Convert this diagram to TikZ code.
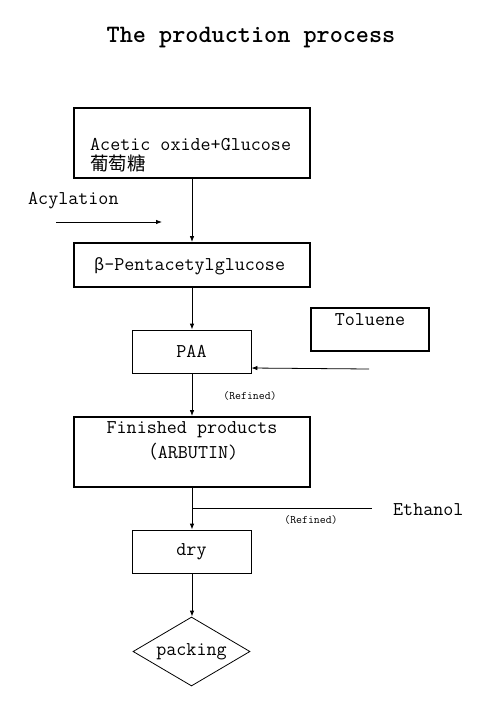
\documentclass[tikz,border=0pt]{standalone}
\usepackage{fontspec}
\newfontfamily\cjk{Noto Sans CJK SC}
\usetikzlibrary{arrows.meta,shapes.geometric}
\begin{document}
\begin{tikzpicture}[x=1pt,y=-1pt,
  thickbox/.style={draw,line width=1.8pt,inner sep=0pt},
  thinbox/.style={draw,line width=0.8pt,inner sep=0pt},
  lbl/.style={inner sep=0pt,font=\ttfamily\fontsize{19.5}{21}\selectfont},
  small/.style={inner sep=0pt,font=\ttfamily\fontsize{11.5}{13}\selectfont},
  arr/.style={line width=0.8pt,-{Latex[length=6pt,width=4.5pt]}},
  ln/.style={line width=0.8pt}]
\useasboundingbox (0,0) rectangle (500,702);
% title
\node[inner sep=0pt,font=\ttfamily\fontsize{25}{27}\selectfont] (title) at (251,38) {\textbf{The production process}};
% box 1
\node[thickbox,minimum width=236pt,minimum height=70pt] (b1) at (192,143) {};
\node[lbl,anchor=west] (t1a) at (90,145) {Acetic oxide+Glucose};
\node[inner sep=0pt,anchor=west,font=\cjk\fontsize{18.5}{20}\selectfont] (t1b) at (90,163) {葡萄糖};
% acylation
\node[lbl,anchor=west] (acyl) at (28,201) {Acylation};
\coordinate (ac1) at (56,222);
\coordinate (ac2) at (162,222);
\draw[arr] (ac1) -- (ac2);
% box 2
\node[thickbox,minimum width=236pt,minimum height=44pt] (b2) at (192,265) {};
\node[lbl,anchor=west] (t2) at (94,266) {{\cjk\fontsize{16}{18}\selectfont β}-Pentacetylglucose};
% PAA
\node[thinbox,minimum width=119pt,minimum height=43pt,lbl] (paa) at (191.5,351.5) {PAA};
% Toluene
\node[thickbox,minimum width=118pt,minimum height=43pt] (tol) at (370,329.5) {};
\node[lbl] (tolt) at (370,320) {Toluene};
\coordinate (tolend) at (369,369);
\draw[arr] (tolend) -- (paa.east |- 0,368) coordinate (paaR);
\node[small] (ref1) at (250,396) {(Refined)};
% Finished
\node[thickbox,minimum width=236pt,minimum height=70pt] (fin) at (192,452) {};
\node[lbl] (fina) at (192,430) {Finished products};
\node[lbl] (finb) at (189,452) {{\cjk\fontsize{18}{20}\selectfont （}ARBUTIN)};
% dry
\node[thinbox,minimum width=119pt,minimum height=43pt,lbl] (dry) at (191.5,551.5) {dry};
% packing
\node[draw,line width=0.8pt,diamond,minimum width=117pt,minimum height=69pt,inner sep=0pt,lbl,aspect=1.7] (pack) at (191.5,651.5) {packing};
% connectors
\draw[arr] (b1.south -| 192,0) -- (b2.north -| 192,0);
\draw[arr] (b2.south -| 192,0) -- (paa.north -| 192,0);
\draw[arr] (paa.south -| 192,0) -- (fin.north -| 192,0);
\draw[arr] (fin.south -| 192,0) -- (dry.north -| 192,0);
\draw[arr] (dry.south -| 192,0) -- (pack.north -| 192,0);
% ethanol
\coordinate (ej) at (192,508);
\coordinate (ee) at (372,508);
\draw[ln] (ej) -- (ee);
\node[lbl,anchor=west] (eth) at (393,510) {Ethanol};
\node[small] (ref2) at (311,520) {(Refined)};
\end{tikzpicture}
\end{document}
